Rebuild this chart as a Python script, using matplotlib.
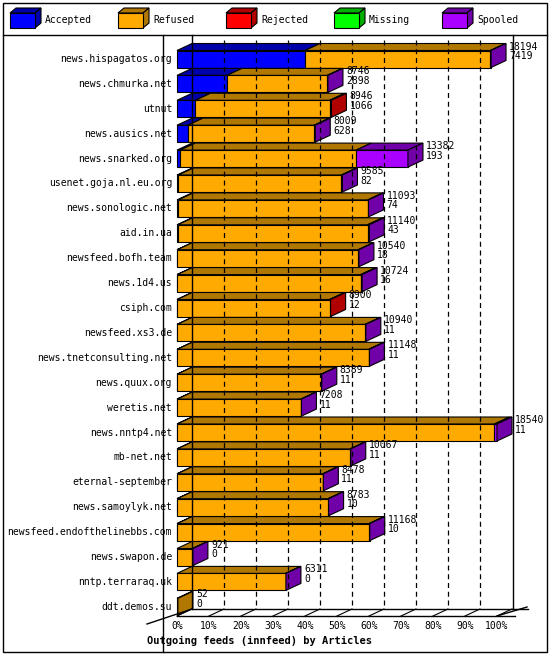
import matplotlib
matplotlib.use("Agg")
import matplotlib.pyplot as plt
from matplotlib.patches import Polygon, Rectangle

# feed names, offered totals, accepted, rejected, spooled
names = ["news.hispagatos.org", "news.chmurka.net", "utnut", "news.ausics.net",
         "news.snarked.org", "usenet.goja.nl.eu.org", "news.sonologic.net",
         "aid.in.ua", "newsfeed.bofh.team", "news.1d4.us", "csiph.com",
         "newsfeed.xs3.de", "news.tnetconsulting.net", "news.quux.org",
         "weretis.net", "news.nntp4.net", "mb-net.net", "eternal-september",
         "news.samoylyk.net", "newsfeed.endofthelinebbs.com", "news.swapon.de",
         "nntp.terraraq.uk", "ddt.demos.su"]
offered = [18194, 8746, 8946, 8009, 13382, 9585, 11093, 11140, 10540, 10724,
           8900, 10940, 11148, 8389, 7208, 18540, 10067, 8478, 8783, 11168,
           921, 6311, 52]
accepted = [7419, 2898, 1066, 628, 193, 82, 74, 43, 18, 16, 12, 11, 11, 11,
            11, 11, 11, 11, 10, 10, 0, 0, 0]
rejected = [0, 0, 100, 0, 0, 0, 0, 60, 0, 40, 60, 0, 0, 0, 0, 0, 0, 0, 0, 0, 0, 0, 0]
missing = [0] * 23
spooled = [40, 40, 0, 60, 3000, 60, 40, 40, 40, 40, 0, 40, 40, 30, 30, 150,
           40, 30, 30, 40, 20, 20, 0]

series = ["Accepted", "Refused", "Rejected", "Missing", "Spooled"]
front = ["#0000ff", "#ffaa00", "#ff0000", "#00ff00", "#aa00ff"]
dark = ["#0000a8", "#b07800", "#b00000", "#00b000", "#7000a8"]

fig = plt.figure(figsize=(5.5, 6.55), dpi=100)
ax = fig.add_axes([0, 0, 1, 1])
ax.set_xlim(0, 550)
ax.set_ylim(655, 0)
ax.axis("off")
mono = "DejaVu Sans Mono"

x0, x1 = 177, 497        # 0% .. 100% on the front face
dx, dy = 15, 7           # depth offset
y_first, y_step, h = 59, 24.9, 17
vmax = max(offered)

def px(v):
    return x0 + v / vmax * (x1 - x0)

# frame
ax.add_patch(Rectangle((3, 3), 544, 649, fill=False, lw=1, color="black"))
ax.plot([3, 547], [35, 35], color="black", lw=1)
ax.plot([x0 - 14, x0 - 14], [35, 652], color="black", lw=1)
floor_y = 616
ax.plot([x0 + dx, x0 + dx], [35, floor_y - dy], color="black", lw=1)
ax.plot([x1 + dx + 1, x1 + dx + 1], [35, floor_y - dy], color="black", lw=1)
ax.plot([x0, x1 + 18], [floor_y, floor_y], color="black", lw=1)
ax.plot([x0 + dx, x1 + dx + 16], [floor_y - dy, floor_y - dy], color="black", lw=1)
ax.plot([x0 - 30, x0 + dx], [floor_y + 8, floor_y - dy], color="black", lw=1)
ax.plot([x1, x1 + dx + 15], [floor_y, floor_y - dy - 2], color="black", lw=1)
for k in range(11):
    xb = x0 + dx + k * (x1 - x0) / 10
    if 0 < k < 10:
        ax.plot([xb, xb], [40, floor_y - dy], color="black", lw=0.9, ls=(0, (4, 3)))
    xf = x0 + k * (x1 - x0) / 10
    ax.plot([xf, xf + dx], [floor_y, floor_y - dy], color="black", lw=0.8)
    ax.text(xf, floor_y + 5, f"{k * 10}%", ha="center", va="top", fontsize=7, family=mono)
ax.text(x0 - 30, 636, "Outgoing feeds (innfeed) by Articles", fontsize=7.5,
        family=mono, weight="bold", va="top")

# legend
for i, (s, f, d) in enumerate(zip(series, front, dark)):
    lx = 10 + i * 108
    ax.add_patch(Polygon([(lx, 13), (lx + 6, 8), (lx + 31, 8), (lx + 25, 13)], fc=d, ec="black", lw=0.8))
    ax.add_patch(Polygon([(lx + 25, 13), (lx + 31, 8), (lx + 31, 23), (lx + 25, 28)], fc=d, ec="black", lw=0.8))
    ax.add_patch(Rectangle((lx, 13), 25, 15, fc=f, ec="black", lw=0.8))
    ax.text(lx + 35, 20, s, fontsize=7, family=mono, va="center")

# bars
for i, name in enumerate(names):
    yc = y_first + i * y_step
    top = yc - h / 2
    refused = offered[i] - accepted[i] - rejected[i] - missing[i] - spooled[i]
    vals = [accepted[i], refused, rejected[i], missing[i], spooled[i]]
    start = 0
    last = 1
    for j, v in enumerate(vals):
        if v <= 0:
            continue
        a, b = px(start), px(start + v)
        ax.add_patch(Polygon([(a, top), (a + dx, top - dy), (b + dx, top - dy), (b, top)],
                             fc=dark[j], ec="black", lw=0.8))
        ax.add_patch(Rectangle((a, top), b - a, h, fc=front[j], ec="black", lw=0.8))
        start += v
        last = j
    e = px(start)
    ax.add_patch(Polygon([(e, top), (e + dx, top - dy), (e + dx, top - dy + h), (e, top + h)],
                         fc=dark[last], ec="black", lw=0.8))
    ax.text(172, yc, name, ha="right", va="center", fontsize=7, family=mono)
    ax.text(e + dx + 3, top - dy - 2, f"{offered[i]}\n{accepted[i]}", ha="left", va="top",
            fontsize=7, family=mono, linespacing=0.95)

fig.savefig("out.png", dpi=100)
